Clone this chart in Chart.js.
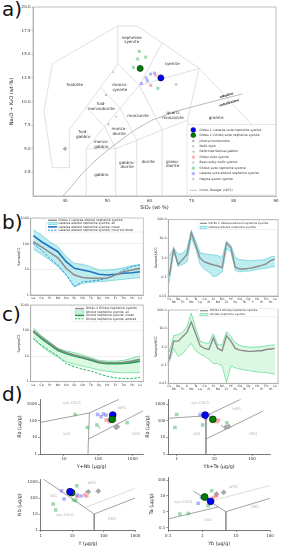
<!DOCTYPE html>
<html><head><meta charset="utf-8">
<script src="https://cdn.jsdelivr.net/npm/chart.js@4.4.1/dist/chart.umd.min.js"></script>
<style>
html,body{margin:0;padding:0;background:#fff;}
#root{position:relative;width:282px;height:550px;overflow:hidden;background:#fff;}
#root canvas{position:absolute;}
.pl{position:absolute;font-family:'DejaVu Sans',sans-serif;font-size:20px;line-height:20px;color:#111;}
</style></head>
<body><div id="root">
<div class="pl" style="left:2px;top:-1px">a)</div>
<div class="pl" style="left:2px;top:212px">b)</div>
<div class="pl" style="left:2px;top:304px">c)</div>
<div class="pl" style="left:2px;top:384px">d)</div>
</div>
<script>
// ================= DATA =================
// Panel a: TAS diagram (Middlemost 1994 plutonic fields, Irvine & Baragar 1971 line)
const tasXTicks = [40, 50, 60, 70, 80, 90];
const tasXTickLabels = ['40', '50', '60', '70', '80', '90'];
const tasYTicks = [2.5, 5, 7.5, 10, 12.5, 15, 17.5, 20];
const tasYTickLabels = ['2.5', '5.0', '7.5', '10.0', '12.5', '15.0', '17.5', '20.0'];
const tasBoundaries = [
  [[37,3],[35,9],[37,14],[52.5,18],[57,18],[63,16.2],[71.8,13.5],[85.9,6.8],[87.5,4.7],[77.3,0]],
  [[37,3],[41,3],[41,7],[45,9.4],[48.4,11.5],[52.5,14],[52.5,18]],
  [[45,0],[45,5],[57.6,11.7],[63,16.2]],
  [[45,5],[52,5],[57,5.9],[63,7],[69,8],[71.8,13.5]],
  [[52,0],[52,5]],
  [[57,0],[57,5.9]],
  [[63,0],[63,7]],
  [[69,8],[77.3,0]],
  [[45,9.4],[49.4,7.3],[52,5]],
  [[48.4,11.5],[53,9.3],[57,5.9]],
  [[52.5,14],[57.6,11.7],[63,7]],
  [[57.6,11.7],[71.8,13.5]]
];
const irvineBaragar = [[39.5,0],[41.5,1],[43.3,2],[45.4,3],[47.8,4],[50.5,5],[53.5,6],[56.6,7],[60.5,8],[66.5,9],[75,10],[82,10.8]];
const tasFieldNames = [
  ['nepheline\nsyenite', 55.8, 16.5],
  ['syenite', 65.4, 14.0],
  ['foidolite', 42.3, 11.8],
  ['monzo-\nsyenite', 53.0, 11.5],
  ['foid-\nmonzodiorite', 48.6, 9.5],
  ['monzonite', 57.3, 8.5],
  ['quartz\nmonzonite', 65.6, 8.5],
  ['granite', 75.8, 8.3],
  ['foid-\ngabbro', 44.3, 6.55],
  ['monzo-\ndiorite', 52.8, 6.85],
  ['monzo-\ngabbro', 48.6, 5.45],
  ['gabbro', 48.6, 2.2],
  ['gabbro-\ndiorite', 54.7, 3.3],
  ['diorite', 59.7, 3.6],
  ['grano-\ndiorite', 65.5, 3.4]
];
const tasSeriesNames = [['alkaline', 78.3, 10.65], ['subalkaline', 78.9, 9.85]];
const tasDitrau1 = [[62.7,12.5]];
const tasDitrau2 = [[57.8,13.5]];
const tasGhidutNS = [[57.6,15.3],[59.1,14.7],[57.2,14.5],[56.2,13.6],[62.0,11.4]];
const tasLazareaAlt = [[60.3,12.9],[61.2,13.0],[59.2,12.5],[59.5,12.2],[58.1,11.9]];
const tasDitrauSyenite = [[61.5,12.8],[60.3,11.7]];
const tasJolotca = [[40.0,5.0]];
const tasMaficDyke = [[49.7,10.7]];
const tasSarmas = [[50.3,7.6]];
const tasBearValley = [[51.4,13.1],[52.1,8.4]];
const tasHagota = [[66.3,11.8]];

// Panels b, c: REE (chondrite) and multi-element (UCC) patterns
const reeElements = ['La','Ce','Pr','Nd','Sm','Eu','Gd','Tb','Dy','Ho','Er','Tm','Yb','Lu'];
const reeTicks = [1, 10, 100, 1000];
const reeTickLabels = ['1', '10', '100', '1000'];
const spiderElements = ['Cs','Rb','Ba','Th','U','Nb','Ta','La','Ce','Pr','Sr','Nd','Sm','Zr','Hf','Eu','Gd','Tb','Dy','Y','Ho','Er','Tm','Yb','Lu'];
const spiderTicks = [0.01, 0.1, 1, 10, 100];
const spiderTickLabels = ['0.01', '0.1', '1.0', '10.0', '100.0'];

const bReeDitrau1  = [119,75,46,28,11,6.0,4.8,4.5,4.45,4.6,6.0,8.1,9.4,10.9];
const bReeUpper    = [340,216,119,76,31,17,15.6,12.7,9.4,9.4,10,11.6,13.8,15.6];
const bReeLower    = [61,38,23,12.7,6.0,2.1,2.85,3.1,3.3,3.5,3.8,4.1,4.45,4.7];
const bReeMean     = [204,119,76,48.5,19.8,10.9,9.4,8.1,6.4,6.0,6.4,7.0,7.4,8.1];
const bReeEnriched = [102,56,26.7,14.7,6.0,2.1,3.3,3.5,3.8,4.45,6.0,9.4,12.7,14.7];

const bSpDitrau1 = [0.12,2.8,0.45,0.8,1.5,20,4.5,0.95,0.6,0.5,0.42,0.38,0.3,6.0,3.2,0.32,0.26,0.26,0.28,0.3,0.35,0.4,0.48,0.7,0.85];
const bSpUpper   = [1.2,3.2,1.5,1.7,3.0,27,7.3,1.8,1.6,1.5,1.4,1.3,1.0,7.3,4.5,1.0,0.8,0.75,0.7,0.7,0.75,0.75,0.85,1.1,1.2];
const bSpLower   = [0.05,2.2,0.35,0.45,0.6,11,3.0,0.45,0.25,0.18,0.1,0.12,0.18,3.0,2.0,0.22,0.18,0.2,0.2,0.22,0.25,0.27,0.28,0.32,0.35];

const cReeDitrau2 = [100,54,32,18.5,13.6,11,9.1,7.4,5.9,5.4,5.4,5.7,6.3,7.4];
const cReeUpper   = [125,62,35,20,15.8,13.6,11,8.6,6.7,6.3,6.3,6.7,8.1,10];
const cReeLower   = [45,24,14,9,6.0,4.8,4.0,3.4,2.8,2.5,2.3,2.2,2.2,2.3];
const cReeMean    = [90,48,28,16.5,12.5,10,8.3,6.8,5.4,5.0,5.0,5.1,5.5,6.3];
const cReeAltered = [50,26,16,10,5,3.8,3.0,2.6,2.0,1.6,1.4,1.3,1.3,1.45];

const cSpDitrau2 = [0.2,2.0,2.0,3.5,6.0,22,5.0,1.1,0.8,0.7,3.0,0.8,0.6,4.0,2.0,0.8,0.65,0.6,0.55,0.55,0.6,0.6,0.7,0.75,0.8];
const cSpUpper   = [0.5,4.0,4.5,6.0,12,67,10,2.0,1.6,1.5,5.0,1.3,1.2,6.5,3.5,1.6,1.2,1.0,0.95,0.95,0.95,1.0,1.1,1.2,1.25];
const cSpLower   = [0.15,0.8,0.3,0.4,0.8,1.5,0.6,0.4,0.3,0.2,0.12,0.12,0.09,0.011,0.09,0.07,0.06,0.055,0.05,0.045,0.042,0.04,0.038,0.035,0.032];

// Panel d: Pearce et al. (1984) discrimination diagrams
const d1Ditrau1 = [[263,224]];
const d1Ditrau2 = [[253,123]];
const d1LazareaAlt = [[95,245],[120,176],[168,224],[210,112],[140,260]];
const d1DitrauSyenite = [[168,112],[210,88],[295,112],[240,100]];
const d1Ghidut = [[21,245],[48,40],[91,56],[690,77]];
const d1Jolotca = [[330,40],[360,45]];
const d1Other = [[107,40]];
const d1Lines = [[[2,80],[55,300],[400,2000]], [[55,300],[51.5,8],[50,1]], [[51.5,8],[2000,400]]];
const d1Fields = [['syn-COLG',17,1250],['WPG',480,575],['VAG',12,15.4],['ORG',1260,15.4]];

const d2Ditrau1 = [[5.7,224]];
const d2Ditrau2 = [[9.1,123]];
const d2LazareaAlt = [[4.2,245],[5.1,195],[7.0,224],[6.0,150]];
const d2DitrauSyenite = [[9.5,123],[11.7,88],[12.8,112]];
const d2Ghidut = [[1.0,245],[0.9,40],[4.9,56],[21.5,77]];
const d2Jolotca = [[20,40],[24,45]];
const d2Other = [[16,50]];
const d2Lines = [[[0.5,140],[6,200],[50,2000]], [[6,200],[6,8],[6,1]], [[6,8],[200,400]]];
const d2Fields = [['syn-COLG',4.2,1250],['WPG',39,500],['VAG',3.4,15.4],['ORG',108,15.4]];

const d3Ditrau1 = [[8.5,247]];
const d3Ditrau2 = [[9.6,215]];
const d3LazareaAlt = [[4.6,285],[5.5,87],[19,133],[14.5,155]];
const d3DitrauSyenite = [[14,120],[25,155],[29,133]];
const d3Ghidut = [[14,590],[2.5,42],[3.0,18],[11,75],[13,68]];
const d3Jolotca = [[32.5,247],[67,270]];
const d3Other = [[27,240]];
const d3Lines = [[[1,2000],[50,10],[1000,100]], [[50,10],[50,1]]];
const d3Dashed = [[25,25],[1000,400]];
const d3Fields = [['WPG',42,830],['VAG',2.5,140],['syn-COLG',5.9,8.7],['ORG',182,4.7]];

const d4Ditrau1 = [[1.77,4.5]];
const d4Ditrau2 = [[1.18,8.5]];
const d4LazareaAlt = [[0.76,3.4],[0.96,8],[1.4,6]];
const d4DitrauSyenite = [[2.1,8],[2.65,9.8]];
const d4Ghidut = [[1.9,21],[0.22,0.71],[0.39,0.78],[1.5,2.4]];
const d4Jolotca = [[4.3,16.7],[2.65,13]];
const d4Other = [[2.4,10]];
const d4Lines = [[[0.55,20],[3,2],[5,1]], [[5,1],[5,0.05]], [[5,1],[100,7]], [[0.1,0.35],[3,2]]];
const d4Dashed = [[2,5],[100,45]];
const d4Fields = [['WPG',8.3,34],['syn-COLG',0.28,4.3],['VAG',1.5,0.3],['ORG',36,1.9]];

// ================= RENDERING =================
const FONT = "'DejaVu Sans', sans-serif";
Chart.defaults.font.family = FONT;
Chart.defaults.color = '#333';
const root = document.getElementById('root');
const xy = a => a.map(p => ({x: p[0], y: p[1]}));
const ix = a => a.map((v, i) => ({x: i, y: v}));

const C = {
  blue: '#0000ff', blueEdge: '#00005a', green: '#008000', greenEdge: '#002a00',
  lBlue: 'rgba(100,100,255,0.5)', lRed: 'rgba(255,100,100,0.5)', lGreen: 'rgba(60,180,90,0.5)',
  gray: '#a8a8a8'
};

function drawSym(ctx, it, L) {
  const x = L.sx, y = it.y, r = it.r || 1.5;
  ctx.save();
  ctx.fillStyle = it.color; ctx.strokeStyle = it.edge || it.color; ctx.lineWidth = it.lw || 0.5;
  ctx.beginPath();
  switch (it.sym) {
    case 'line':
      ctx.lineWidth = it.w || 1; ctx.strokeStyle = it.color; ctx.setLineDash(it.dash || []);
      ctx.moveTo(L.sx1, y); ctx.lineTo(L.sx2, y); ctx.stroke(); break;
    case 'band':
      ctx.fillRect(L.sx1, y - 1.1, L.sx2 - L.sx1, 2.2);
      ctx.strokeStyle = it.edge; ctx.lineWidth = 0.5; ctx.strokeRect(L.sx1, y - 1.1, L.sx2 - L.sx1, 2.2); break;
    case 'circle':
      ctx.arc(x, y, r, 0, Math.PI * 2); ctx.fill(); if (it.edge) ctx.stroke(); break;
    case 'rect':
      ctx.fillRect(x - r / 2, y - r / 2, r, r); break;
    case 'rectRot':
      ctx.moveTo(x, y - r); ctx.lineTo(x + r, y); ctx.lineTo(x, y + r); ctx.lineTo(x - r, y); ctx.closePath(); ctx.fill(); break;
    case 'triL':
      ctx.moveTo(x - r, y); ctx.lineTo(x + r * 0.8, y - r); ctx.lineTo(x + r * 0.8, y + r); ctx.closePath(); ctx.fill(); break;
    case 'cross':
      ctx.moveTo(x - r, y); ctx.lineTo(x + r, y); ctx.moveTo(x, y - r); ctx.lineTo(x, y + r); ctx.stroke(); break;
    case 'crossRot':
      ctx.moveTo(x - r, y - r); ctx.lineTo(x + r, y + r); ctx.moveTo(x - r, y + r); ctx.lineTo(x + r, y - r); ctx.stroke(); break;
  }
  ctx.restore();
}

function drawLegend(ctx, L, ox, oy) {
  ctx.save();
  ctx.translate(-ox, -oy);
  const [x1, y1, x2, y2] = L.box;
  ctx.fillStyle = 'rgba(255,255,255,0.92)';
  ctx.fillRect(x1, y1, x2 - x1, y2 - y1);
  if (L.border) { ctx.strokeStyle = L.border; ctx.lineWidth = 0.5; ctx.strokeRect(x1, y1, x2 - x1, y2 - y1); }
  ctx.font = L.fs + 'px ' + FONT; ctx.textBaseline = 'middle'; ctx.textAlign = 'left';
  L.items.forEach(it => {
    drawSym(ctx, it, L);
    ctx.fillStyle = '#333';
    ctx.fillText(it.text, L.tx, it.y);
  });
  ctx.restore();
}

function extrasPlugin(ex) {
  return {
    id: 'extras',
    afterDraw(chart) {
      const ctx = chart.ctx, ca = chart.chartArea;
      ctx.save();
      if (ex.frame) {
        ctx.strokeStyle = ex.frame; ctx.lineWidth = 0.8;
        ctx.strokeRect(ca.left, ca.top, ca.right - ca.left, ca.bottom - ca.top);
      }
      (ex.texts || []).forEach(g => {
        g.items.forEach(t => {
          const x = chart.scales.x.getPixelForValue(t[1]);
          const y = chart.scales.y.getPixelForValue(t[2]);
          ctx.save();
          ctx.translate(x, y);
          if (g.rot) ctx.rotate(g.rot * Math.PI / 180);
          ctx.font = (g.weight || 'normal') + ' ' + g.size + 'px ' + FONT;
          ctx.fillStyle = g.color; ctx.textAlign = 'center'; ctx.textBaseline = 'middle';
          const lines = t[0].split('\n'); const lh = g.size * 1.15;
          lines.forEach((l, i) => ctx.fillText(l, 0, (i - (lines.length - 1) / 2) * lh));
          ctx.restore();
        });
      });
      if (ex.legend) drawLegend(ctx, ex.legend, ex.ox, ex.oy);
      ctx.restore();
    }
  };
}

function axis(type, min, max, ticks, labels, o) {
  return {
    type, min, max,
    afterBuildTicks: s => { s.ticks = ticks.map(v => ({value: v})); },
    ticks: {callback: (v, i) => labels[i], autoSkip: false, maxRotation: 0, minRotation: 0,
            font: {size: o.fs, lineHeight: o.flh || 1.2}, color: o.tc || '#333', padding: (o.tp !== undefined ? o.tp : 1)},
    grid: {display: true, drawOnChartArea: !!o.gc, color: o.gc || '#999', lineWidth: 0.6,
           drawTicks: true, tickLength: (o.tl !== undefined ? o.tl : 1.5), tickColor: o.tkc || '#777', tickWidth: 0.6},
    border: {display: true, color: o.bc || '#999', width: o.bw || 0.8},
    title: o.title ? {display: true, text: o.title, color: '#222', font: {size: o.tfs}, padding: o.tpad} : {display: false}
  };
}

function mk(box, area, cfg, ex) {
  const [bx, by, bw, bh] = box, [al, at, ar, ab] = area;
  const cv = document.createElement('canvas');
  cv.width = bw; cv.height = bh;
  Object.assign(cv.style, {left: bx + 'px', top: by + 'px', width: bw + 'px', height: bh + 'px'});
  root.appendChild(cv);
  const o = cfg.options;
  o.responsive = false; o.animation = false; o.devicePixelRatio = 1;
  o.layout = {autoPadding: false, padding: {left: 0, top: at - by, right: bx + bw - ar, bottom: 0}};
  o.scales.x.afterFit = s => { s.height = by + bh - ab; s.paddingLeft = 0; s.paddingRight = 0; };
  o.scales.y.afterFit = s => { s.width = al - bx; s.paddingTop = 0; s.paddingBottom = 0; };
  o.plugins = {legend: {display: false}, tooltip: {enabled: false}};
  ex = ex || {}; ex.ox = bx; ex.oy = by;
  cfg.plugins = [extrasPlugin(ex)];
  return new Chart(cv, cfg);
}

const polyline = (arr, color, w, dash) => Object.assign({data: xy(arr)},
  {showLine: true, pointRadius: 0, borderColor: color, borderWidth: w, borderDash: dash || [], fill: false});
const markers = (arr, style) => Object.assign({data: xy(arr)}, style);
const sq = (color, r) => ({pointStyle: 'rect', pointRadius: r, backgroundColor: color, borderColor: color, borderWidth: 0});
const circ = (color, edge, r) => ({pointStyle: 'circle', pointRadius: r, backgroundColor: color, borderColor: edge, borderWidth: 0.7});

// ---------- Panel a ----------
mk([0, 0, 282, 213], [33, 7, 276, 196], {
  type: 'scatter',
  data: {datasets: [
    markers(tasDitrau1, circ(C.blue, C.blueEdge, 3)),
    markers(tasDitrau2, circ(C.green, C.greenEdge, 3)),
    markers(tasLazareaAlt, sq(C.lBlue, 2.1)),
    markers(tasDitrauSyenite, sq(C.lRed, 2.1)),
    markers(tasGhidutNS, sq(C.lGreen, 2.1)),
    markers(tasJolotca, {pointStyle: 'rectRot', pointRadius: 2, backgroundColor: '#b5b5b5', borderColor: '#8d8d8d', borderWidth: 0.5}),
    markers(tasMaficDyke, {pointStyle: 'circle', pointRadius: 1, backgroundColor: '#aaa', borderColor: '#aaa', borderWidth: 0}),
    markers(tasSarmas, {pointStyle: 'triangle', pointRotation: -90, pointRadius: 1.4, backgroundColor: '#aaa', borderColor: '#aaa', borderWidth: 0}),
    markers(tasBearValley, {pointStyle: 'crossRot', pointRadius: 1.2, borderColor: '#999', borderWidth: 0.6}),
    markers(tasHagota, {pointStyle: 'cross', pointRadius: 1.4, borderColor: '#999', borderWidth: 0.6}),
    polyline(irvineBaragar, '#a8a8a8', 0.8),
    ...tasBoundaries.map(l => polyline(l, '#d2d2d2', 0.7))
  ]},
  options: {scales: {
    x: axis('linear', 32.4, 90, tasXTicks, tasXTickLabels, {fs: 4, tl: 1.5, bc: '#aaa', tkc: '#888', title: 'SiO₂ (wt-%)', tfs: 5, tpad: {top: 0, bottom: 2.4}}),
    y: axis('linear', 0, 20, tasYTicks, tasYTickLabels, {fs: 4, tl: 1.5, bc: '#aaa', tkc: '#888', title: 'Na₂O + K₂O (wt-%)', tfs: 5, tpad: {top: 8.7, bottom: 0}})
  }}
}, {
  frame: '#b0b0b0',
  texts: [
    {items: tasFieldNames, size: 4.1, color: '#333'},
    {items: tasSeriesNames, size: 3.2, color: '#222', rot: -16, weight: 'bold'}
  ],
  legend: {
    box: [187, 124.5, 275.5, 195], border: '#cfcfcf', fs: 3.0, sx: 193.3, sx1: 190, sx2: 197, tx: 199.5,
    items: [
      {y: 130, sym: 'circle', r: 2.4, color: C.blue, edge: C.blueEdge, text: 'Ditrău 1: Lăzarea suite nepheline syenite'},
      {y: 135.2, sym: 'circle', r: 2.4, color: C.green, edge: C.greenEdge, text: 'Ditrău 2: Ghiduţ suite nepheline syenite'},
      {y: 141, sym: 'rectRot', r: 1.6, color: '#b0b0b0', text: 'Jolotca hornblendite'},
      {y: 146.3, sym: 'circle', r: 1.0, color: '#aaa', text: 'Mafic dyke'},
      {y: 151.7, sym: 'triL', r: 1.3, color: '#aaa', text: 'Deformed Sărmaş gabbro'},
      {y: 157.1, sym: 'rect', r: 3, color: C.lRed, text: 'Ditrău suite syenite'},
      {y: 162.6, sym: 'crossRot', r: 1.1, color: '#999', lw: 0.6, text: 'Bear-valley mafic syenite'},
      {y: 168.1, sym: 'rect', r: 3, color: C.lGreen, text: 'Ghiduţ suite nepheline syenite'},
      {y: 173.6, sym: 'rect', r: 3, color: C.lBlue, text: 'Lăzarea suite altered nepheline syenite'},
      {y: 179.1, sym: 'cross', r: 1.3, color: '#999', lw: 0.6, text: 'Hagota quartz syenite'},
      {y: 190.3, sym: 'line', color: '#b0b0b0', w: 0.8, text: 'Irvine, Baragar (1971)'}
    ]
  }
});

// ---------- Panels b & c ----------
const reeIdx = reeElements.map((_, i) => i);
const spiderIdx = spiderElements.map((_, i) => i);
const spiderXLabels = spiderElements.map((e, i) => (i % 2 ? ['', e] : e));
const lineDs = (vals, color, w, extra) => Object.assign({data: ix(vals), borderColor: color, borderWidth: w, pointRadius: 0, fill: false, tension: 0}, extra || {});

const cyanLine = '#5ccbd6', cyanFill = 'rgba(110,215,225,0.45)';
const mintLine = '#4fd48e', mintFill = 'rgba(160,238,180,0.38)';

function reeAxes(yTitle) {
  return {
    x: axis('linear', -0.32, 13.4, reeIdx, reeElements, {fs: 3, tl: 1, tp: 0.6, bc: '#999', tkc: '#999'}),
    y: axis('logarithmic', 1, 1000, reeTicks, reeTickLabels, {fs: 3.3, tl: 1, tp: 0.8, gc: '#e6e6e6', bc: '#999', tkc: '#999', title: yTitle, tfs: 3.4, tpad: {top: 16.7, bottom: 0}})
  };
}
function spiderAxes(yTitle) {
  return {
    x: axis('linear', -0.23, 24.7, spiderIdx, spiderXLabels, {fs: 3, flh: 1.1, tl: 1, tp: 0.3, bc: '#999', tkc: '#999'}),
    y: axis('logarithmic', 0.01, 100, spiderTicks, spiderTickLabels, {fs: 3.3, tl: 1, tp: 0.8, bc: '#999', tkc: '#999', title: yTitle, tfs: 3.4, tpad: {top: 4, bottom: 0}})
  };
}

// b left
mk([0, 212, 150, 96], [30.7, 218, 143.3, 295], {
  type: 'line',
  data: {datasets: [
    lineDs(bReeDitrau1, '#8c8c8c', 1.6),
    lineDs(bReeEnriched, '#2e8fdc', 1, {borderDash: [2.5, 1.5]}),
    lineDs(bReeMean, '#1f74bd', 1.6),
    lineDs(bReeUpper, cyanLine, 0.7, {fill: '+1', backgroundColor: cyanFill}),
    lineDs(bReeLower, cyanLine, 0.7)
  ]},
  options: {scales: reeAxes('Sample/C1')}
}, {
  frame: '#b0b0b0',
  legend: {
    box: [46, 218.6, 143, 232], border: '#e2e2e2', fs: 3.0, sx1: 48, sx2: 57, tx: 58.5,
    items: [
      {y: 220.3, sym: 'line', color: '#8c8c8c', w: 1.4, text: 'Ditrău 1 Lăzarea altered nepheline syenite'},
      {y: 223.6, sym: 'band', color: cyanFill, edge: cyanLine, text: 'Lăzarea altered nepheline syenite, all'},
      {y: 226.9, sym: 'line', color: '#1f74bd', w: 1.6, text: 'Lăzarea altered nepheline syenite, mean'},
      {y: 230.2, sym: 'line', color: '#2e8fdc', w: 1, dash: [2, 1.2], text: 'Lăzarea altered nepheline syenite, most enriched'}
    ]
  }
});

// b right
mk([150, 212, 132, 96], [168.3, 219.5, 278, 296], {
  type: 'line',
  data: {datasets: [
    lineDs(bSpDitrau1, '#8c8c8c', 1.4),
    lineDs(bSpUpper, cyanLine, 0.7, {fill: '+1', backgroundColor: cyanFill}),
    lineDs(bSpLower, cyanLine, 0.7)
  ]},
  options: {scales: spiderAxes('Sample/UCC')}
}, {
  frame: '#b0b0b0',
  legend: {
    box: [198, 220.6, 277.5, 229.6], border: '#e2e2e2', fs: 2.8, sx1: 200, sx2: 207, tx: 208.5,
    items: [
      {y: 223.3, sym: 'line', color: '#8c8c8c', w: 1.2, text: 'Ditrău 1 Lăzarea altered nepheline syenite'},
      {y: 227.2, sym: 'band', color: cyanFill, edge: cyanLine, text: 'Lăzarea altered nepheline syenite'}
    ]
  }
});

// c left
mk([0, 302, 150, 92], [30.7, 305, 143.3, 381.5], {
  type: 'line',
  data: {datasets: [
    lineDs(cReeDitrau2, '#8c8c8c', 1.6),
    lineDs(cReeAltered, '#1fb45a', 1, {borderDash: [2.5, 1.5]}),
    lineDs(cReeMean, '#18a048', 1.6),
    lineDs(cReeUpper, mintLine, 0.7, {fill: '+1', backgroundColor: mintFill}),
    lineDs(cReeLower, mintLine, 0.7)
  ]},
  options: {scales: reeAxes('Sample/C1')}
}, {
  frame: '#b0b0b0',
  legend: {
    box: [72, 306, 143, 321.3], border: '#e2e2e2', fs: 3.0, sx1: 75, sx2: 84, tx: 86,
    items: [
      {y: 308.6, sym: 'line', color: '#8c8c8c', w: 1.4, text: 'Ditrău 2 Ghiduţ nepheline syenite'},
      {y: 312, sym: 'band', color: mintFill, edge: mintLine, text: 'Ghiduţ nepheline syenite, all'},
      {y: 315.4, sym: 'line', color: '#18a048', w: 1.6, text: 'Ghiduţ nepheline syenite, mean'},
      {y: 318.8, sym: 'line', color: '#1fb45a', w: 1, dash: [2, 1.2], text: 'Ghiduţ nepheline syenite, altered'}
    ]
  }
});

// c right
mk([150, 302, 132, 92], [168.3, 310, 278, 383.3], {
  type: 'line',
  data: {datasets: [
    lineDs(cSpDitrau2, '#8c8c8c', 1.4),
    lineDs(cSpUpper, mintLine, 0.7, {fill: '+1', backgroundColor: mintFill}),
    lineDs(cSpLower, mintLine, 0.7)
  ]},
  options: {scales: spiderAxes('Sample/UCC')}
}, {
  frame: '#b0b0b0',
  legend: {
    box: [198, 308.4, 277.5, 316.8], border: '#e2e2e2', fs: 2.8, sx1: 200, sx2: 208, tx: 210,
    items: [
      {y: 310.7, sym: 'line', color: '#8c8c8c', w: 1.2, text: 'Ditrău 2 Ghiduţ nepheline syenite'},
      {y: 314.4, sym: 'band', color: mintFill, edge: mintLine, text: 'Ghiduţ nepheline syenite'}
    ]
  }
});

// ---------- Panel d ----------
const dAx = (min, max, ticks, labels, title, tpad) =>
  axis('logarithmic', min, max, ticks, labels, {fs: 4, tl: 2, tp: 1, bc: '#555', tkc: '#555', title, tfs: 4.8, tpad});
const dAxB = (min, max, ticks, labels, title, tpad) =>
  axis('logarithmic', min, max, ticks, labels, {fs: 4, tl: 2, tp: 2, bc: '#555', tkc: '#555', title, tfs: 4.8, tpad});
function dSets(b, g, lb, lr, lg, jo, ot, lines, dashed, blueOnTop) {
  const circles = blueOnTop
    ? [markers(b, circ(C.blue, C.blueEdge, 3.4)), markers(g, circ(C.green, C.greenEdge, 3.4))]
    : [markers(g, circ(C.green, C.greenEdge, 3.4)), markers(b, circ(C.blue, C.blueEdge, 3.4))];
  const out = circles.concat([
    markers(lb, sq(C.lBlue, 2.5)),
    markers(lr, sq(C.lRed, 2.5)),
    markers(lg, sq(C.lGreen, 2.5)),
    markers(jo, {pointStyle: 'rectRot', pointRadius: 2.6, backgroundColor: '#a8a8a8', borderColor: '#999', borderWidth: 0.4}),
    markers(ot, {pointStyle: 'crossRot', pointRadius: 1.3, borderColor: '#999', borderWidth: 0.6})
  ]);
  lines.forEach(l => out.push(polyline(l, '#8a8a8a', 0.8)));
  if (dashed) out.push(polyline(dashed, '#cfcfcf', 0.7));
  return out;
}
const fieldTxt = f => ({texts: [{items: f, size: 3.6, color: '#b0b0b0'}]});

mk([0, 395, 150, 75], [40, 399.3, 143, 454], {
  type: 'scatter',
  data: {datasets: dSets(d1Ditrau1, d1Ditrau2, d1LazareaAlt, d1DitrauSyenite, d1Ghidut, d1Jolotca, d1Other, d1Lines, null, false)},
  options: {scales: {
    x: dAx(2, 2000, [10, 100, 1000], ['10', '100', '1000'], 'Y+Nb (μg/g)', {top: 0, bottom: 0.5}),
    y: dAx(1, 2000, [1, 10, 100, 1000], ['1', '10', '100', '1000'], 'Rb (μg/g)', {top: 17, bottom: 0})
  }}
}, fieldTxt(d1Fields));

mk([142, 395, 140, 75], [168.3, 399.3, 270, 454], {
  type: 'scatter',
  data: {datasets: dSets(d2Ditrau1, d2Ditrau2, d2LazareaAlt, d2DitrauSyenite, d2Ghidut, d2Jolotca, d2Other, d2Lines, null, false)},
  options: {scales: {
    x: dAx(0.6, 300, [1, 10, 100], ['1', '10', '100'], 'Yb+Ta (μg/g)', {top: 0, bottom: 0.5}),
    y: dAx(1, 2000, [1, 10, 100, 1000], ['1', '10', '100', '1000'], 'Rb (μg/g)', {top: 3.2, bottom: 0})
  }}
}, fieldTxt(d2Fields));

mk([0, 470, 150, 80], [40.7, 479.2, 135.2, 530], {
  type: 'scatter',
  data: {datasets: dSets(d3Ditrau1, d3Ditrau2, d3LazareaAlt, d3DitrauSyenite, d3Ghidut, d3Jolotca, d3Other, d3Lines, d3Dashed, true)},
  options: {scales: {
    x: dAxB(1, 1000, [1, 10, 100, 1000], ['1', '10', '100', '1000'], 'Y (μg/g)', {top: 0, bottom: 3.8}),
    y: dAx(1, 1500, [1, 10, 100, 1000], ['1', '10', '100', '1000'], 'Nb (μg/g)', {top: 17, bottom: 0})
  }}
}, fieldTxt(d3Fields));

mk([142, 470, 140, 80], [168.3, 477.7, 270, 530], {
  type: 'scatter',
  data: {datasets: dSets(d4Ditrau1, d4Ditrau2, d4LazareaAlt, d4DitrauSyenite, d4Ghidut, d4Jolotca, d4Other, d4Lines, d4Dashed, true)},
  options: {scales: {
    x: dAxB(0.1, 100, [0.1, 1, 10, 100], ['0.1', '1', '10', '100'], 'Yb (μg/g)', {top: 0, bottom: 3.8}),
    y: dAx(0.07, 140, [0.1, 1, 10, 100], ['0.1', '1', '10', '100'], 'Ta (μg/g)', {top: 6.8, bottom: 0})
  }}
}, fieldTxt(d4Fields));
</script></body></html>
